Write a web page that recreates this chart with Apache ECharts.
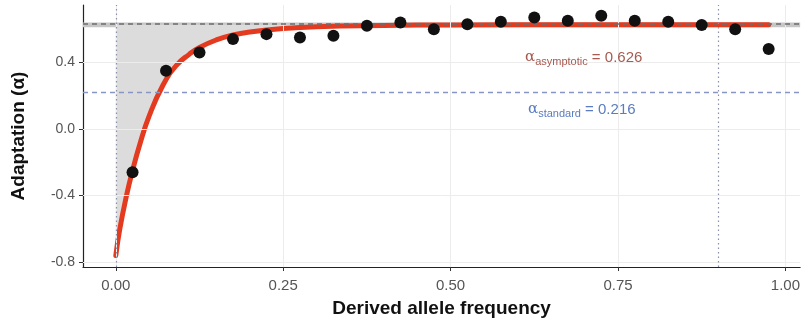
<!DOCTYPE html>
<html>
<head>
<meta charset="utf-8">
<script src="https://cdn.jsdelivr.net/npm/echarts@6/dist/echarts.min.js"></script>
<style>
html, body { margin: 0; padding: 0; background: #fff; }
#main { width: 803px; height: 327px; }
</style>
</head>
<body>
<div id="main"></div>
<script>
// binned alpha values (one per derived allele frequency bin)
var binX = [0.025, 0.075, 0.125, 0.175, 0.225, 0.275, 0.325, 0.375, 0.425, 0.475,
            0.525, 0.575, 0.625, 0.675, 0.725, 0.775, 0.825, 0.875, 0.925, 0.975];
var alphaBins = [-0.26, 0.35, 0.46, 0.54, 0.57, 0.55, 0.56, 0.62, 0.64, 0.60,
                 0.63, 0.645, 0.67, 0.65, 0.68, 0.65, 0.645, 0.625, 0.60, 0.48];

// fitted curve
var fitX = [0, 0.006, 0.016, 0.025, 0.036, 0.05, 0.07, 0.09, 0.11, 0.125, 0.15, 0.175,
            0.2, 0.25, 0.3, 0.4, 0.5, 0.7, 0.975];
var fitY = [-0.76, -0.60, -0.40, -0.25, -0.09, 0.08, 0.26, 0.38, 0.45, 0.49, 0.535, 0.565,
            0.583, 0.604, 0.615, 0.622, 0.625, 0.626, 0.626];

var alphaAsym = 0.626;
var asymCI = [0.612, 0.640];
var alphaStd = 0.216;
var cutoffs = [0, 0.9];

var xTicks = [0, 0.25, 0.5, 0.75, 1];
var xTickLabels = ['0.00', '0.25', '0.50', '0.75', '1.00'];
var yTicks = [-0.8, -0.4, 0, 0.4];
var yTickLabels = ['-0.8', '-0.4', '0.0', '0.4'];

var chart = echarts.init(document.getElementById('main'));

var gridLines = xTicks.map(function (v) { return { xAxis: v }; })
    .concat(yTicks.map(function (v) { return { yAxis: v }; }));

var option = {
    animation: false,
    grid: { left: 83, top: 5, width: 720, height: 262 },
    xAxis: {
        type: 'value',
        min: -0.049,
        max: 1.022,
        name: 'Derived allele frequency',
        nameLocation: 'middle',
        nameGap: 32,
        nameTextStyle: { fontFamily: 'Liberation Sans', fontWeight: 'bold', fontSize: 19, color: '#111' },
        axisLine: { onZero: false, lineStyle: { color: '#222', width: 1.2 } },
        axisTick: { customValues: xTicks, length: 4, lineStyle: { color: '#333' } },
        axisLabel: {
            customValues: xTicks,
            margin: 11,
            fontFamily: 'Liberation Sans', fontSize: 15, color: '#555',
            formatter: function (v) { return xTickLabels[xTicks.indexOf(v)] || ''; }
        },
        splitLine: { show: false }
    },
    yAxis: {
        type: 'value',
        min: -0.829,
        max: 0.745,
        name: 'Adaptation (α)',
        nameLocation: 'middle',
        nameGap: 55,
        nameRotate: 90,
        nameTextStyle: { fontFamily: 'Liberation Sans', fontWeight: 'bold', fontSize: 19, color: '#111' },
        axisLine: { onZero: false, lineStyle: { color: '#222', width: 1.2 } },
        axisTick: { customValues: yTicks, length: 4, lineStyle: { color: '#333' } },
        axisLabel: {
            customValues: yTicks,
            margin: 8,
            fontFamily: 'Liberation Sans', fontSize: 14, color: '#555',
            formatter: function (v) { return yTickLabels[yTicks.indexOf(v)] || ''; }
        },
        splitLine: { show: false }
    },
    series: [
        {   // light grid lines
            type: 'line', data: [], z: 1, silent: true,
            markLine: {
                silent: true, symbol: 'none', label: { show: false },
                lineStyle: { color: '#ececec', width: 1, type: 'solid' },
                data: gridLines
            }
        },
        {   // shaded area between curve and asymptote
            type: 'custom', z: 2, silent: true,
            data: [[0, 0]],
            renderItem: function (params, api) {
                var pts = fitX.map(function (x, i) { return api.coord([x, fitY[i]]); });
                pts.push(api.coord([fitX[fitX.length - 1], alphaAsym]));
                pts.push(api.coord([fitX[0], alphaAsym]));
                return { type: 'polygon', shape: { points: pts }, style: { fill: '#dcdcdc' } };
            },
            markArea: {
                silent: true,
                itemStyle: { color: '#c6c6c6' },
                data: [[{ yAxis: asymCI[0] }, { yAxis: asymCI[1] }]]
            }
        },
        {   // fitted curve
            type: 'line', z: 4, silent: true,
            data: fitX.map(function (x, i) { return [x, fitY[i]]; }),
            smooth: 0.5,
            showSymbol: false,
            lineStyle: { color: '#e33a20', width: 5, cap: 'round' }
        },
        {   // reference lines
            type: 'line', data: [], z: 5, silent: true,
            markLine: {
                silent: true, symbol: 'none', label: { show: false },
                data: [
                    { yAxis: alphaAsym, lineStyle: { color: '#6e6e6e', width: 1.6, type: [5, 4] } },
                    { yAxis: alphaStd, lineStyle: { color: '#8796c4', width: 1.3, type: [5, 4] } },
                    { xAxis: cutoffs[0], lineStyle: { color: '#8a90a8', width: 1.2, type: [1.5, 3] } },
                    { xAxis: cutoffs[1], lineStyle: { color: '#8a90a8', width: 1.2, type: [1.5, 3] } }
                ]
            }
        },
        {   // bins
            type: 'scatter', z: 6, silent: true,
            data: binX.map(function (x, i) { return [x, alphaBins[i]]; }),
            symbolSize: 12,
            itemStyle: { color: '#111', opacity: 1 }
        }
    ],
    graphic: [
        {
            type: 'text', left: 525, top: 50, z: 10,
            style: {
                text: '{a|α}{s|asymptotic}{v| = 0.626}',
                rich: {
                    a: { fontFamily: 'DejaVu Serif', fontSize: 15, fill: '#a65a50', verticalAlign: 'bottom', lineHeight: 18 },
                    s: { fontFamily: 'Liberation Sans', fontSize: 11, fill: '#a65a50', verticalAlign: 'bottom', lineHeight: 14, padding: [0, 0, -2, 0] },
                    v: { fontFamily: 'Liberation Sans', fontSize: 15, fill: '#a65a50', verticalAlign: 'bottom', lineHeight: 18 }
                }
            }
        },
        {
            type: 'text', left: 528, top: 102, z: 10,
            style: {
                text: '{a|α}{s|standard}{v| = 0.216}',
                rich: {
                    a: { fontFamily: 'DejaVu Serif', fontSize: 15, fill: '#5b7cc0', verticalAlign: 'bottom', lineHeight: 18 },
                    s: { fontFamily: 'Liberation Sans', fontSize: 11, fill: '#5b7cc0', verticalAlign: 'bottom', lineHeight: 14, padding: [0, 0, -2, 0] },
                    v: { fontFamily: 'Liberation Sans', fontSize: 15, fill: '#5b7cc0', verticalAlign: 'bottom', lineHeight: 18 }
                }
            }
        }
    ]
};

chart.setOption(option);
</script>
</body>
</html>
